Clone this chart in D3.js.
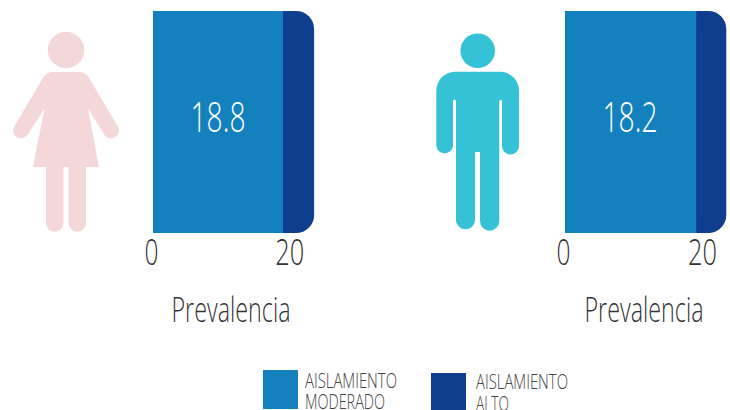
<!DOCTYPE html>
<html><head><meta charset="utf-8">
<script src="https://cdn.jsdelivr.net/npm/d3@7/dist/d3.min.js"></script>
<style>html,body{margin:0;padding:0;background:#fff;overflow:hidden}
svg{display:block}
text{font-family:"Open Sans","Noto Sans",sans-serif;font-weight:300}</style>
</head><body><svg id="c" width="730" height="410"></svg>
<script>
const groups = ["Mujeres", "Hombres"];
const moderado = [18.8, 18.2];
const alto = [4.5, 4.2];
const axisTicks = [0, 20];
const axisTitle = "Prevalencia";
const legendLabels = [["AISLAMIENTO", "MODERADO"], ["AISLAMIENTO", "ALTO"]];
const colorModerado = "#1481bf", colorAlto = "#103e8e";

const womanPath = "M53,72 L79,72 Q85,72 88.5,77 L117.5,126 A7.6,7.6 0 0 1 104.5,135 L88,108.5 L99,167 L86,167 L86,223 A8.7,8.7 0 0 1 68.6,223 L68.6,167 L63.4,167 L63.4,223 A8.7,8.7 0 0 1 46,223 L46,167 L33,167 L44.5,108.5 L27.5,135 A7.6,7.6 0 0 1 14.5,126 L43.5,77 Q47,72 53,72 Z";
const manPath = "M455,71.7 L500,71.7 A19,19 0 0 1 519,90.7 L519,146 A8.4,8.4 0 0 1 502,146 L502,101 A1.4,1.4 0 0 0 499.3,101 L499.3,221 A9.6,9.6 0 0 1 480,221 L480,152 L475,152 L475,221 A9.6,9.6 0 0 1 456,221 L456,101 A1.4,1.4 0 0 0 453,101 L453,146 A8.4,8.4 0 0 1 436.3,146 L436.3,90.7 A19,19 0 0 1 455,71.7 Z";

const svg = d3.select("#c");
const narrow = (sel, len) => sel.attr("textLength", len).attr("lengthAdjust", "spacingAndGlyphs");

const panels = [
  {x0: 153, x1: 291.3, icon: womanPath, iconFill: "#f4d7d8", head: [66, 50, 18.2], vx: 218, title: 231, tickDx: [-2, -2]},
  {x0: 565, x1: 709, icon: manPath, iconFill: "#35c2d6", head: [477.7, 50.7, 17.3], vx: 630, title: 644, tickDx: [-2, -7]}
];

groups.forEach((g, i) => {
  const p = panels[i];
  const x = d3.scaleLinear().domain([0, 20]).range([p.x0, p.x1]);
  const top = 11, h = 222, r = 18;
  svg.append("path").attr("d", p.icon).attr("fill", p.iconFill);
  svg.append("circle").attr("cx", p.head[0]).attr("cy", p.head[1]).attr("r", p.head[2]).attr("fill", p.iconFill);

  const a = x(moderado[i]), b = x(moderado[i] + alto[i]);
  svg.append("rect").attr("x", x(0)).attr("y", top).attr("width", a - x(0)).attr("height", h).attr("fill", colorModerado);
  svg.append("path").attr("fill", colorAlto)
    .attr("d", `M${a},${top}H${b - r}A${r},${r} 0 0 1 ${b},${top + r}V${top + h - r}A${r},${r} 0 0 1 ${b - r},${top + h}H${a}Z`);

  svg.append("text").attr("x", p.vx).attr("y", 132).attr("text-anchor", "middle")
    .attr("font-size", 42).attr("fill", "#fff").text(moderado[i].toFixed(1)).call(narrow, 55);

  const ax = svg.append("g").attr("transform", "translate(0,265)")
    .call(d3.axisBottom(x).tickValues(axisTicks).tickSize(0).tickPadding(0));
  ax.select(".domain").remove();
  ax.selectAll("text")
    .attr("y", 0).attr("dy", 0).attr("dx", (d, j) => p.tickDx[j])
    .attr("font-size", 36).attr("fill", "#333")
    .style("font-family", '"Open Sans"').style("font-weight", 300)
    .each(function(d) { d3.select(this).call(narrow, d === 0 ? 14 : 29); });

  svg.append("text").attr("x", p.title).attr("y", 322).attr("text-anchor", "middle")
    .attr("font-size", 34).attr("fill", "#333").text(axisTitle).call(narrow, 119);
});

const legendX = [263, 431], legendY = [370, 373], legendTx = [305, 476], legendBase = [[388, 409], [389, 411]];
[colorModerado, colorAlto].forEach((c, i) => {
  svg.append("rect").attr("x", legendX[i]).attr("y", legendY[i]).attr("width", 35).attr("height", 39).attr("fill", c);
  legendLabels[i].forEach((t, j) => {
    const w = {AISLAMIENTO: 92, MODERADO: 80, ALTO: 33}[t];
    svg.append("text").attr("x", legendTx[i]).attr("y", legendBase[i][j]).attr("font-size", 21)
      .attr("fill", "#444").text(t).call(narrow, w);
  });
});
</script></body></html>
